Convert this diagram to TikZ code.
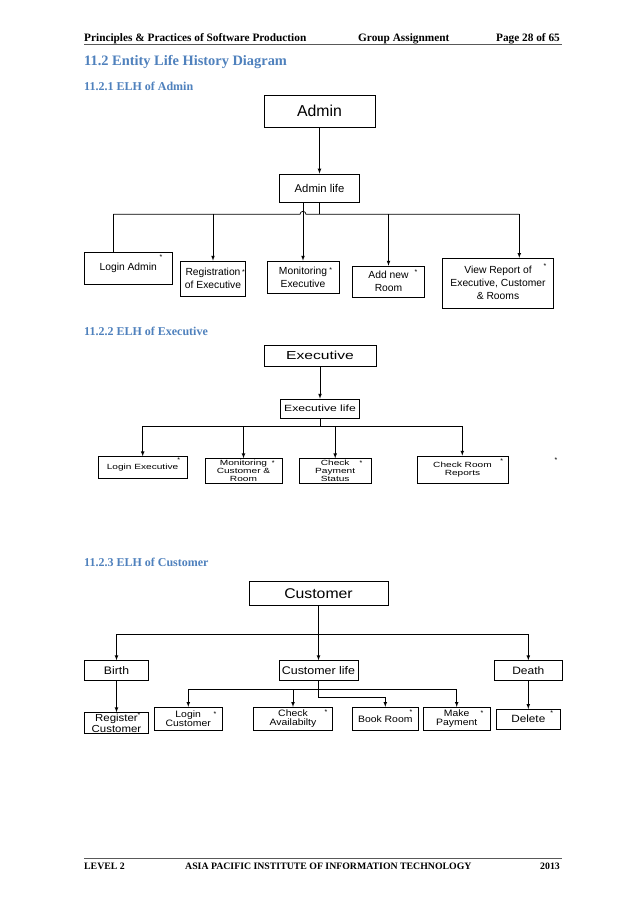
\documentclass[tikz,border=0pt]{standalone}
\usepackage{fontspec}
\setmainfont{Liberation Serif}
\newfontfamily\boxfont{Liberation Sans}
\newfontfamily\exefont[FakeStretch=1.35]{Liberation Sans}
\newfontfamily\cusfont[FakeStretch=1.12]{Liberation Sans}
\usetikzlibrary{calc}
\definecolor{headblue}{HTML}{4F81BD}

\begin{document}
\begin{tikzpicture}[x=1pt, y=-1pt,
    entity/.style={draw, line width=0.8pt, inner sep=0pt, align=center},
    arr/.style={-latex, line width=0.7pt},
    link/.style={line width=0.7pt},
    star/.style={inner sep=0pt, font=\boxfont\fontsize{7}{7}\selectfont},
    head/.style={anchor=base west, inner sep=0pt, font=\bfseries\fontsize{11.3}{12}\selectfont},
    admtext/.style={font=\boxfont\fontsize{10.3}{13}\selectfont},
    exetext/.style={font=\exefont\fontsize{7.5}{8.3}\selectfont},
    custext/.style={font=\cusfont\fontsize{9.3}{9}\selectfont}]
    \useasboundingbox[fill=white] (0,0) rectangle (638,903);

    % This draws the page header.
        \node[head] (course) at (84,41) {Principles \& Practices of Software Production};
        \node[head] (group) at (358,41) {Group Assignment};
        \node[head, anchor=base east] (page) at (560,41) {Page 28 of 65};
        \draw[black!65, line width=0.8pt] (84,44.3) -- (562,44.3);
        \node[head, headblue, font=\bfseries\fontsize{14.4}{16}\selectfont] (section) at (84,65.5) {11.2 Entity Life History Diagram};

    % ELH of Admin
        \node[head, headblue, font=\bfseries\fontsize{12}{14}\selectfont] (subadmin) at (84,90) {11.2.1 ELH of Admin};
        \node[entity, minimum width=111pt, minimum height=32.3pt, font=\boxfont\fontsize{15.8}{18}\selectfont] (admin) at (319.5,111.2) {Admin};
        \node[entity, minimum width=79.3pt, minimum height=28pt, font=\boxfont\fontsize{11.3}{13}\selectfont] (adminlife) at (319.5,188) {Admin life};
        \node[entity, admtext, minimum width=88.3pt, minimum height=32pt] (loginadmin) at (128.2,268.3) {Login Admin};
        \node[entity, admtext, minimum width=65.7pt, minimum height=35.3pt] (regexec) at (213,278.7) {Registration\\of Executive};
        \node[entity, admtext, minimum width=72pt, minimum height=32.3pt] (monexec) at (303,277.2) {Monitoring\\Executive};
        \node[entity, admtext, minimum width=72.7pt, minimum height=31.3pt] (addroom) at (388.5,281.7) {Add new\\Room};
        \node[entity, admtext, minimum width=110.6pt, minimum height=50pt] (viewrep) at (498,283.3) {View Report of\\Executive, Customer\\\& Rooms};
    % The bus under Admin life, with the hop where the Monitoring arrow passes.
        \coordinate (abusL) at (113.3,214.3);
        \coordinate (abusR) at (519.3,214.3);
        \draw[arr] (admin) -- (adminlife);
        \draw[link] (adminlife) -- (adminlife |- abusL);
        \draw[link] (abusL) -- ($(abusL -| monexec)+(-3,0)$) arc (180:360:3) -- (abusR);
        \draw[link] (abusL) -- (abusL |- loginadmin.north);
        \draw[arr] (regexec.north |- abusL) -- (regexec.north);
        \draw[arr] (adminlife.south -| monexec) -- (monexec.north);
        \draw[arr] (addroom.north |- abusL) -- (addroom.north);
        \draw[arr] (abusR) -- (abusR |- viewrep.north);
    % Iteration marks.
        \node[star] (starA1) at (161,256.7) {*};
        \node[star] (starA2) at (243.5,272) {*};
        \node[star] (starA3) at (330.7,270) {*};
        \node[star] (starA4) at (416,272) {*};
        \node[star] (starA5) at (545,265.7) {*};

    % ELH of Executive
        \node[head, headblue, font=\bfseries\fontsize{12}{14}\selectfont] (subexec) at (84,335.5) {11.2.2 ELH of Executive};
        \node[entity, minimum width=112pt, minimum height=21.7pt, font=\exefont\fontsize{11.6}{13}\selectfont] (exec) at (320,355.8) {Executive};
        \node[entity, minimum width=79pt, minimum height=19.3pt, font=\exefont\fontsize{9}{11}\selectfont] (execlife) at (320,408.7) {Executive life};
        \node[entity, exetext, minimum width=89pt, minimum height=21.6pt] (loginexec) at (142.5,467.5) {Login Executive};
        \node[entity, exetext, minimum width=77pt, minimum height=24.6pt] (moncr) at (243.5,471) {Monitoring\\Customer \&\\Room};
        \node[entity, exetext, minimum width=72.3pt, minimum height=24.6pt] (chkpay) at (335.2,471) {Check\\Payment\\Status};
        \node[entity, exetext, minimum width=91pt, minimum height=27.3pt] (chkroom) at (462.5,469.7) {Check Room\\Reports};
        \coordinate (ebusL) at (142.7,426.3);
        \coordinate (ebusR) at (462.3,426.3);
        \draw[arr] (exec) -- (execlife);
        \draw[link] (execlife) -- (execlife |- ebusL);
        \draw[link] (ebusL) -- (ebusR);
        \draw[arr] (ebusL) -- (ebusL |- loginexec.north);
        \draw[arr] (moncr.north |- ebusL) -- (moncr.north);
        \draw[arr] (chkpay.north |- ebusL) -- (chkpay.north);
        \draw[arr] (ebusR) -- (ebusR |- chkroom.north);
        \node[star] (starE1) at (178.7,460.3) {*};
        \node[star] (starE2) at (273.3,462.7) {*};
        \node[star] (starE3) at (361,462.7) {*};
        \node[star] (starE4) at (501.7,461) {*};
        \node[star] (starE5) at (556,460) {*};

    % ELH of Customer
        \node[head, headblue, font=\bfseries\fontsize{12}{14}\selectfont] (subcust) at (84,566) {11.2.3 ELH of Customer};
        \node[entity, minimum width=139pt, minimum height=23.3pt, font=\cusfont\fontsize{14.1}{16}\selectfont] (cust) at (318.5,593.3) {Customer};
        \node[entity, minimum width=64.7pt, minimum height=19.6pt, font=\cusfont\fontsize{10.9}{12}\selectfont] (birth) at (116.5,670.5) {Birth};
        \node[entity, minimum width=79pt, minimum height=19.6pt, font=\cusfont\fontsize{11.1}{12}\selectfont] (custlife) at (318.5,670.5) {Customer life};
        \node[entity, minimum width=68pt, minimum height=19.6pt, font=\cusfont\fontsize{10.7}{12}\selectfont] (death) at (528.3,670.5) {Death};
        \node[entity, minimum width=64.7pt, minimum height=20.6pt, font=\cusfont\fontsize{10.2}{11}\selectfont] (regcust) at (116.5,723) {Register\\Customer};
        \node[entity, custext, minimum width=68.3pt, minimum height=23pt] (logincust) at (188.2,718.8) {Login\\Customer};
        \node[entity, custext, minimum width=79pt, minimum height=23pt] (chkavail) at (293,718.8) {Check\\Availabilty};
        \node[entity, custext, minimum width=66pt, minimum height=23pt] (bookroom) at (385.3,718.8) {Book Room};
        \node[entity, custext, minimum width=66.7pt, minimum height=23pt] (makepay) at (456.7,718.8) {Make\\Payment};
        \node[entity, minimum width=63.6pt, minimum height=19.7pt, font=\cusfont\fontsize{10.5}{12}\selectfont] (delete) at (528.3,719.2) {Delete};
    % Top bus, and the bus under Customer life.
        \coordinate (cbusL) at (116.5,634.3);
        \coordinate (cbusR) at (528.3,634.3);
        \draw[link] (cbusL) -- (cbusR);
        \draw[arr] (cust) -- (custlife);
        \draw[arr] (cbusL) -- (cbusL |- birth.north);
        \draw[arr] (cbusR) -- (cbusR |- death.north);
        \draw[arr] (birth) -- (regcust);
        \draw[arr] (death) -- (delete);
        \coordinate (lbusL) at (188.3,689.3);
        \coordinate (lbusR) at (456.7,689.3);
        \coordinate (bookbend) at (385.3,697.7);
        \draw[link] (lbusL) -- (lbusR);
        \draw[arr] (lbusL) -- (lbusL |- logincust.north);
        \draw[arr] (chkavail.north |- lbusL) -- (chkavail.north);
        \draw[arr] (lbusR) -- (lbusR |- makepay.north);
        \draw[arr] (custlife.south) |- (bookbend) -- (bookroom.north);
        \node[star] (starC1) at (139,715) {*};
        \node[star] (starC2) at (215,714.3) {*};
        \node[star] (starC3) at (326,712) {*};
        \node[star] (starC4) at (411,712) {*};
        \node[star] (starC5) at (482,713) {*};
        \node[star] (starC6) at (551.7,713) {*};

    % This draws the page footer.
        \draw[black!65, line width=0.8pt] (84,858.3) -- (562,858.3);
        \node[head, font=\bfseries\fontsize{9.8}{11}\selectfont] (level) at (84,869) {LEVEL 2};
        \node[head, font=\bfseries\fontsize{9.8}{11}\selectfont] (inst) at (185,869) {ASIA PACIFIC INSTITUTE OF INFORMATION TECHNOLOGY};
        \node[head, anchor=base east, font=\bfseries\fontsize{9.8}{11}\selectfont] (year) at (560,869) {2013};
\end{tikzpicture}
\end{document}
